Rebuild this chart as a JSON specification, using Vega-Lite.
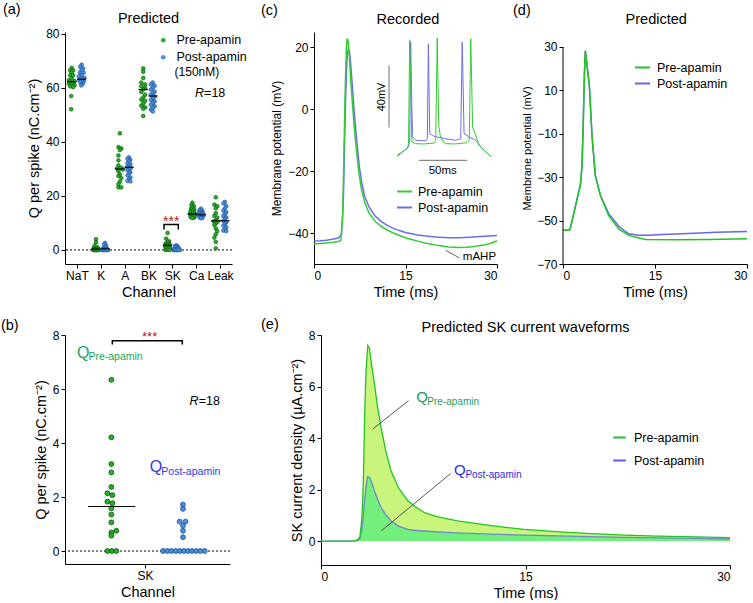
{
"$schema": "https://vega.github.io/schema/vega-lite/v6.json",
"padding": {"left": 0, "top": 1, "right": 0, "bottom": 0},
"background": "white",
"config": {
 "font": "Liberation Sans",
 "view": {"stroke": null},
 "axis": {"grid": false, "domainColor": "#000", "tickColor": "#000", "labelColor": "#000", "titleColor": "#000", "labelFontSize": 12, "titleFontSize": 14.5, "titleFontWeight": "normal", "tickSize": 4, "labelPadding": 2, "titlePadding": 4, "labelOverlap": false, "labelFont": "Liberation Sans", "titleFont": "Liberation Sans"},
 "title": {"fontSize": 14.5, "fontWeight": "normal", "font": "Liberation Sans", "color": "#000"},
 "legend": {"labelFontSize": 12.5, "labelFont": "Liberation Sans", "labelColor": "#000"}
},
"datasets": {
 "aPre": [
  {"x":0.78,"q":67.4},{"x":0.72,"q":66.5},{"x":0.84,"q":66.5},{"x":0.78,"q":65.7},{"x":0.72,"q":64.7},{"x":0.84,"q":64.7},{"x":0.78,"q":63.5},{"x":0.66,"q":62.8},{"x":0.9,"q":62.5},{"x":0.72,"q":62.3},{"x":0.84,"q":61.8},{"x":0.66,"q":61.6},{"x":0.78,"q":61.3},{"x":0.9,"q":61},{"x":0.72,"q":60.6},{"x":0.84,"q":60.3},{"x":0.76,"q":57},{"x":0.76,"q":52.1},
  {"x":1.8,"q":4},{"x":1.8,"q":2.8},{"x":1.74,"q":1.5},{"x":1.86,"q":1.0},{"x":1.7,"q":0.6},{"x":1.8,"q":0.4},{"x":1.9,"q":0.3},{"x":1.74,"q":0.2},{"x":1.86,"q":0.1},{"x":1.68,"q":0},{"x":1.74,"q":0},{"x":1.8,"q":0},{"x":1.86,"q":0},{"x":1.92,"q":0},{"x":1.71,"q":0},{"x":1.77,"q":0},{"x":1.83,"q":0},{"x":1.89,"q":0},
  {"x":2.8,"q":43.2},{"x":2.74,"q":38.1},{"x":2.86,"q":37.6},{"x":2.8,"q":37},{"x":2.74,"q":35},{"x":2.74,"q":33.2},{"x":2.74,"q":31.3},{"x":2.86,"q":30.4},{"x":2.68,"q":30.2},{"x":2.92,"q":29.8},{"x":2.74,"q":29.2},{"x":2.8,"q":28},{"x":2.74,"q":27.4},{"x":2.86,"q":26.6},{"x":2.8,"q":25.3},{"x":2.74,"q":24.4},{"x":2.74,"q":23.2},{"x":2.86,"q":23.2},
  {"x":3.78,"q":67.2},{"x":3.78,"q":66},{"x":3.78,"q":63.7},{"x":3.7,"q":62},{"x":3.86,"q":61.3},{"x":3.7,"q":60.6},{"x":3.86,"q":60},{"x":3.78,"q":59.5},{"x":3.7,"q":58.5},{"x":3.86,"q":57.5},{"x":3.78,"q":56.5},{"x":3.7,"q":55.7},{"x":3.86,"q":55.2},{"x":3.78,"q":54.3},{"x":3.7,"q":53.4},{"x":3.86,"q":52.8},{"x":3.78,"q":52.3},{"x":3.78,"q":49.6},
  {"x":4.8,"q":6.3},{"x":4.74,"q":4.2},{"x":4.86,"q":3.2},{"x":4.8,"q":2.9},{"x":4.72,"q":2.4},{"x":4.88,"q":2.1},{"x":4.8,"q":2.0},{"x":4.72,"q":1.8},{"x":4.88,"q":1.8},{"x":4.8,"q":1.6},{"x":4.7,"q":1.35},{"x":4.9,"q":1.05},{"x":4.8,"q":0.75},{"x":4.72,"q":0.7},{"x":4.88,"q":0.6},{"x":4.72,"q":0},{"x":4.8,"q":0},{"x":4.88,"q":0},
  {"x":5.84,"q":17.5},{"x":5.8,"q":16.6},{"x":5.9,"q":16.2},{"x":5.84,"q":15.7},{"x":5.78,"q":15.2},{"x":5.92,"q":14.9},{"x":5.84,"q":14.6},{"x":5.76,"q":14.2},{"x":5.92,"q":14},{"x":5.84,"q":13.6},{"x":5.74,"q":13.3},{"x":5.96,"q":13.1},{"x":5.8,"q":12.9},{"x":5.9,"q":12.7},{"x":5.84,"q":12.4},{"x":5.76,"q":12.2},{"x":5.92,"q":12},{"x":5.84,"q":11.8},
  {"x":6.82,"q":19.5},{"x":6.76,"q":16.8},{"x":6.88,"q":16.2},{"x":6.82,"q":15.4},{"x":6.82,"q":13.6},{"x":6.76,"q":12.6},{"x":6.88,"q":12},{"x":6.82,"q":11},{"x":6.74,"q":10.6},{"x":6.9,"q":10.5},{"x":6.82,"q":9.8},{"x":6.76,"q":9.3},{"x":6.82,"q":8},{"x":6.88,"q":7},{"x":6.82,"q":5.8},{"x":6.76,"q":4.6},{"x":6.82,"q":3.0},{"x":6.82,"q":0.6}
 ],
 "aPost": [
  {"x":1.2,"q":68.6},{"x":1.14,"q":67.8},{"x":1.26,"q":67.2},{"x":1.2,"q":66.5},{"x":1.12,"q":65.7},{"x":1.28,"q":65.7},{"x":1.2,"q":64.7},{"x":1.08,"q":64.3},{"x":1.32,"q":63.7},{"x":1.16,"q":63.5},{"x":1.24,"q":63.2},{"x":1.1,"q":62.8},{"x":1.3,"q":62.8},{"x":1.2,"q":62.5},{"x":1.14,"q":62.2},{"x":1.26,"q":61.8},{"x":1.2,"q":61.3},{"x":1.18,"q":60.9},
  {"x":2.18,"q":2.6},{"x":2.14,"q":2.1},{"x":2.22,"q":1.6},{"x":2.18,"q":1.1},{"x":2.1,"q":0.7},{"x":2.26,"q":0.5},{"x":2.18,"q":0.3},{"x":2.04,"q":0.2},{"x":2.3,"q":0.1},{"x":2.06,"q":0},{"x":2.12,"q":0},{"x":2.18,"q":0},{"x":2.24,"q":0},{"x":2.3,"q":0},{"x":2.09,"q":0},{"x":2.15,"q":0},{"x":2.21,"q":0},{"x":2.27,"q":0},
  {"x":3.18,"q":34.3},{"x":3.12,"q":33.8},{"x":3.24,"q":33.4},{"x":3.18,"q":32.8},{"x":3.12,"q":32.2},{"x":3.24,"q":31.8},{"x":3.18,"q":31.2},{"x":3.1,"q":30.7},{"x":3.26,"q":30.4},{"x":3.18,"q":30.1},{"x":3.12,"q":29.5},{"x":3.24,"q":28.8},{"x":3.18,"q":28.2},{"x":3.12,"q":27.6},{"x":3.24,"q":26.8},{"x":3.18,"q":26.2},{"x":3.12,"q":25.6},{"x":3.24,"q":25.4},
  {"x":4.18,"q":62},{"x":4.1,"q":61.3},{"x":4.26,"q":60.8},{"x":4.18,"q":60},{"x":4.1,"q":59.4},{"x":4.26,"q":58.6},{"x":4.18,"q":58},{"x":4.1,"q":57.5},{"x":4.26,"q":56.8},{"x":4.18,"q":56.2},{"x":4.1,"q":55.6},{"x":4.26,"q":55},{"x":4.18,"q":54.4},{"x":4.1,"q":53.8},{"x":4.26,"q":53.2},{"x":4.18,"q":52.6},{"x":4.1,"q":52},{"x":4.18,"q":51.3},
  {"x":5.18,"q":1.7},{"x":5.12,"q":1.55},{"x":5.24,"q":1.1},{"x":5.16,"q":1.1},{"x":5.1,"q":0.95},{"x":5.26,"q":0.75},{"x":5.18,"q":0.5},{"x":5.04,"q":0},{"x":5.08,"q":0},{"x":5.12,"q":0},{"x":5.16,"q":0},{"x":5.2,"q":0},{"x":5.24,"q":0},{"x":5.28,"q":0},{"x":5.32,"q":0},{"x":5.1,"q":0},{"x":5.18,"q":0},{"x":5.26,"q":0},
  {"x":6.2,"q":15.3},{"x":6.14,"q":14.8},{"x":6.26,"q":14.5},{"x":6.2,"q":14.2},{"x":6.12,"q":13.9},{"x":6.28,"q":13.7},{"x":6.2,"q":13.5},{"x":6.14,"q":13.3},{"x":6.26,"q":13.1},{"x":6.2,"q":12.9},{"x":6.12,"q":12.7},{"x":6.28,"q":12.5},{"x":6.2,"q":12.3},{"x":6.14,"q":12.1},{"x":6.26,"q":11.9},{"x":6.2,"q":11.7},{"x":6.32,"q":13},{"x":6.08,"q":12.8},
  {"x":7.2,"q":17.8},{"x":7.14,"q":17.2},{"x":7.26,"q":16.2},{"x":7.2,"q":15.4},{"x":7.14,"q":14.6},{"x":7.26,"q":14},{"x":7.2,"q":13.2},{"x":7.14,"q":12.6},{"x":7.26,"q":12},{"x":7.2,"q":11.4},{"x":7.14,"q":10.8},{"x":7.26,"q":10.2},{"x":7.2,"q":9.6},{"x":7.14,"q":9},{"x":7.26,"q":8.4},{"x":7.2,"q":7.8},{"x":7.14,"q":7.2},{"x":7.26,"q":7}
 ],
 "aMed": [
  {"x1":0.6,"x2":0.98,"q":62.3},{"x1":1.0,"x2":1.38,"q":63.2},{"x1":1.62,"x2":1.98,"q":0.3},{"x1":2.02,"x2":2.36,"q":0.4},{"x1":2.6,"x2":3.0,"q":30},{"x1":3.0,"x2":3.38,"q":30.6},{"x1":3.58,"x2":3.98,"q":59.4},{"x1":4.0,"x2":4.38,"q":57},{"x1":4.6,"x2":5.0,"q":1.7},{"x1":5.64,"x2":6.04,"q":13.3},{"x1":6.02,"x2":6.4,"q":13.0},{"x1":6.62,"x2":7.02,"q":10.8},{"x1":7.0,"x2":7.4,"q":10.8}
 ],
 "aBr": [{"x":4.65,"q":7.6,"o":1},{"x":4.65,"q":9.4,"o":2},{"x":5.25,"q":9.4,"o":3},{"x":5.25,"q":7.6,"o":4}],
 "bPre": [
  {"x":2.81,"q":6.34},{"x":2.81,"q":4.21},{"x":2.81,"q":3.22},{"x":2.81,"q":2.91},{"x":2.81,"q":2.37},{"x":2.57,"q":2.14},{"x":2.87,"q":2.07},{"x":2.57,"q":1.83},{"x":2.87,"q":1.77},{"x":2.81,"q":1.58},{"x":2.81,"q":1.35},{"x":2.81,"q":1.06},{"x":3.11,"q":0.75},{"x":2.81,"q":0.69},{"x":2.81,"q":0.57},{"x":2.57,"q":0},{"x":2.84,"q":0},{"x":3.11,"q":0}
 ],
 "bPost": [
  {"x":7.15,"q":1.72},{"x":7.15,"q":1.56},{"x":6.95,"q":1.09},{"x":7.3,"q":1.09},{"x":7.15,"q":0.94},{"x":7.15,"q":0.75},{"x":7.15,"q":0.51},
  {"x":5.94,"q":0},{"x":6.19,"q":0},{"x":6.44,"q":0},{"x":6.7,"q":0},{"x":6.95,"q":0},{"x":7.2,"q":0},{"x":7.45,"q":0},{"x":7.7,"q":0},{"x":7.96,"q":0},{"x":8.21,"q":0},{"x":8.47,"q":0}
 ],
 "bBr": [{"x":2.87,"q":7.65,"o":1},{"x":2.87,"q":7.79,"o":2},{"x":7.11,"q":7.79,"o":3},{"x":7.11,"q":7.65,"o":4}],
 "cPre": [
  {"t":0,"v":-43.5},{"t":1,"v":-43.4},{"t":2,"v":-43.2},{"t":3,"v":-43},{"t":4,"v":-42.7},{"t":4.4,"v":-42.3},{"t":4.7,"v":-35},{"t":4.9,"v":-15},{"t":5.1,"v":5},{"t":5.3,"v":20},{"t":5.45,"v":22.9},{"t":5.6,"v":22},{"t":5.8,"v":17},{"t":6.0,"v":10},{"t":6.3,"v":2},{"t":6.6,"v":-6},{"t":7.0,"v":-14},{"t":7.4,"v":-21},{"t":7.8,"v":-26},{"t":8.3,"v":-30},{"t":9.0,"v":-33.5},{"t":10,"v":-36.2},{"t":11,"v":-37.8},{"t":12,"v":-39},{"t":13,"v":-40},{"t":14,"v":-40.8},{"t":15,"v":-41.5},{"t":16,"v":-42.1},{"t":17,"v":-42.6},{"t":18,"v":-43.1},{"t":19,"v":-43.5},{"t":20,"v":-43.9},{"t":21,"v":-44.2},{"t":22,"v":-44.5},{"t":23,"v":-44.6},{"t":24,"v":-44.7},{"t":25,"v":-44.6},{"t":26,"v":-44.4},{"t":27,"v":-44.1},{"t":28,"v":-43.8},{"t":29,"v":-43.3},{"t":30,"v":-42.5}
 ],
 "cPost": [
  {"t":0,"v":-42.6},{"t":1,"v":-42.5},{"t":2,"v":-42.3},{"t":3,"v":-42},{"t":4,"v":-41.6},{"t":4.5,"v":-40.5},{"t":4.8,"v":-30},{"t":5.0,"v":-12},{"t":5.2,"v":5},{"t":5.4,"v":16},{"t":5.6,"v":19.4},{"t":5.8,"v":19},{"t":6.0,"v":15},{"t":6.3,"v":7},{"t":6.6,"v":-1},{"t":7.0,"v":-10},{"t":7.4,"v":-18},{"t":7.8,"v":-23.5},{"t":8.3,"v":-28},{"t":9.0,"v":-31.5},{"t":10,"v":-34.5},{"t":11,"v":-36.2},{"t":12,"v":-37.5},{"t":13,"v":-38.5},{"t":14,"v":-39.2},{"t":15,"v":-39.8},{"t":16,"v":-40.2},{"t":17,"v":-40.6},{"t":18,"v":-40.9},{"t":19,"v":-41.1},{"t":20,"v":-41.3},{"t":22,"v":-41.5},{"t":24,"v":-41.5},{"t":26,"v":-41.3},{"t":28,"v":-41},{"t":30,"v":-40.8}
 ],
 "ciPre": [
  {"t":13.66,"v":-14.8},{"t":15.3,"v":-12.7},{"t":15.5,"v":-11.1},{"t":15.68,"v":22.5},{"t":15.85,"v":10},{"t":16.05,"v":-10.5},{"t":16.67,"v":-11.1},{"t":18,"v":-11.2},{"t":19.67,"v":-10.9},{"t":19.95,"v":-10},{"t":20.2,"v":23.1},{"t":20.45,"v":-5},{"t":20.7,"v":-8.5},{"t":21.0,"v":-10},{"t":21.6,"v":-11.1},{"t":23,"v":-11.2},{"t":25.1,"v":-10.8},{"t":25.45,"v":-10},{"t":25.7,"v":22.8},{"t":26.0,"v":-5.7},{"t":26.5,"v":-8.4},{"t":27.05,"v":-11.6},{"t":28,"v":-13.5},{"t":28.97,"v":-15.2}
 ],
 "ciPost": [
  {"t":13.66,"v":-15.2},{"t":15.46,"v":-12.2},{"t":15.7,"v":-10},{"t":15.85,"v":21.7},{"t":16.0,"v":5},{"t":16.15,"v":-8.9},{"t":16.67,"v":-10},{"t":18.3,"v":-10.2},{"t":18.58,"v":-9.5},{"t":18.75,"v":21.2},{"t":18.97,"v":-7.8},{"t":19.67,"v":-8.7},{"t":21.5,"v":-9.5},{"t":23.2,"v":-10},{"t":24.05,"v":-9.5},{"t":24.3,"v":21.7},{"t":24.6,"v":-7.8},{"t":25.4,"v":-8.9},{"t":26.5,"v":-10},{"t":27.6,"v":-12.7},{"t":28.97,"v":-15.2}
 ],
 "dPre": [
  {"t":0,"v":-54.5},{"t":1.0,"v":-54.5},{"t":1.2,"v":-53.5},{"t":2.83,"v":-33.6},{"t":3.1,"v":-25},{"t":3.3,"v":-5},{"t":3.5,"v":18},{"t":3.64,"v":28.3},{"t":3.9,"v":22},{"t":4.3,"v":12},{"t":4.73,"v":-11},{"t":5.27,"v":-29.3},{"t":6.1,"v":-38.5},{"t":7.45,"v":-47.7},{"t":9.1,"v":-53.8},{"t":10.7,"v":-56.8},{"t":13.4,"v":-58.7},{"t":18.8,"v":-58.8},{"t":24,"v":-58.7},{"t":30,"v":-58.4}
 ],
 "dPost": [
  {"t":0,"v":-54.5},{"t":1.0,"v":-54.5},{"t":1.2,"v":-53.5},{"t":2.83,"v":-33.6},{"t":3.1,"v":-25},{"t":3.3,"v":-5},{"t":3.5,"v":18},{"t":3.64,"v":28.3},{"t":3.9,"v":22},{"t":4.3,"v":12},{"t":4.73,"v":-11},{"t":5.27,"v":-29.3},{"t":6.1,"v":-38.3},{"t":7.45,"v":-46.8},{"t":9.1,"v":-52.6},{"t":10.7,"v":-56.1},{"t":12.3,"v":-56.8},{"t":14,"v":-56.7},{"t":16.1,"v":-56.4},{"t":21.5,"v":-55.8},{"t":25,"v":-55.4},{"t":30,"v":-55.0}
 ],
 "e": [
  {"t":0,"pre":0,"post":0},{"t":2.2,"pre":0,"post":0},{"t":2.6,"pre":0.02,"post":0.01},{"t":2.85,"pre":0.15,"post":0.08},{"t":3.0,"pre":0.9,"post":0.45},{"t":3.1,"pre":2.2,"post":0.95},{"t":3.2,"pre":4.8,"post":1.6},{"t":3.3,"pre":6.6,"post":2.1},{"t":3.43,"pre":7.6,"post":2.5},{"t":3.55,"pre":7.5,"post":2.48},{"t":3.7,"pre":6.9,"post":2.3},{"t":3.92,"pre":6.1,"post":1.95},{"t":4.15,"pre":5.2,"post":1.62},{"t":4.41,"pre":4.4,"post":1.3},{"t":4.75,"pre":3.5,"post":1.02},{"t":5.14,"pre":2.72,"post":0.78},{"t":5.7,"pre":2.05,"post":0.58},{"t":6.37,"pre":1.56,"post":0.45},{"t":7.0,"pre":1.3,"post":0.41},{"t":7.6,"pre":1.1,"post":0.39},{"t":8.5,"pre":0.95,"post":0.36},{"t":10,"pre":0.78,"post":0.32},{"t":12.5,"pre":0.6,"post":0.27},{"t":14.9,"pre":0.45,"post":0.23},{"t":17.5,"pre":0.36,"post":0.2},{"t":19.8,"pre":0.29,"post":0.17},{"t":22.3,"pre":0.23,"post":0.14},{"t":24.7,"pre":0.19,"post":0.12},{"t":27.5,"pre":0.16,"post":0.1},{"t":30,"pre":0.13,"post":0.08}
 ]
},
"resolve": {"scale": {"color": "independent"}, "legend": {"color": "independent"}},
"vconcat": [
 {"resolve": {"scale": {"color": "independent"}, "legend": {"color": "independent"}},
  "hconcat": [
  {
   "width": 167, "height": 232,
   "layer": [
    {"data": {"values": [{}]}, "mark": {"type": "rule", "strokeDash": [2, 2], "color": "#000", "strokeWidth": 1}, "encoding": {"y": {"datum": 0, "type": "quantitative"}}},
    {"data": {"name": "aPre"}, "mark": {"type": "point", "filled": true, "size": 14, "stroke": "#0d4a0d", "strokeWidth": 0.6, "opacity": 1},
     "encoding": {
      "x": {"field": "x", "type": "quantitative", "scale": {"domain": [0.5, 7.5], "nice": false, "zero": false}, "axis": {"values": [1,2,3,4,5,6,7], "tickCount": 20, "labelExpr": "['NaT','K','A','BK','SK','Ca','Leak'][datum.value-1]", "labelOverlap": false, "labelFlush": false, "title": "Channel"}},
      "y": {"field": "q", "type": "quantitative", "scale": {"domain": [-5.2, 80.7], "nice": false, "zero": false}, "axis": {"values": [0,20,40,60,80], "title": "Q per spike  (nC.cm⁻²)"}},
      "color": {"datum": "Pre-apamin", "scale": {"domain": ["Pre-apamin", "Post-apamin"], "range": ["#22b522", "#4a90e2"]}, "legend": {"orient": "none", "legendX": 92, "legendY": 2, "title": null, "symbolType": "circle", "symbolSize": 22, "symbolStrokeWidth": 0, "labelOffset": 7, "rowPadding": 4}}
     }},
    {"data": {"name": "aPost"}, "mark": {"type": "point", "filled": true, "size": 14, "stroke": "#1c4f8c", "strokeWidth": 0.6, "opacity": 1},
     "encoding": {"x": {"field": "x", "type": "quantitative"}, "y": {"field": "q", "type": "quantitative"}, "color": {"datum": "Post-apamin"}}},
    {"data": {"name": "aMed"}, "mark": {"type": "rule", "color": "#000", "strokeWidth": 1.2},
     "encoding": {"x": {"field": "x1", "type": "quantitative"}, "x2": {"field": "x2"}, "y": {"field": "q", "type": "quantitative"}}},
    {"data": {"name": "aBr"}, "mark": {"type": "line", "color": "#000", "strokeWidth": 1.5},
     "encoding": {"x": {"field": "x", "type": "quantitative"}, "y": {"field": "q", "type": "quantitative"}, "order": {"field": "o", "type": "quantitative"}}},
    {"data": {"values": [{}]}, "mark": {"type": "text", "text": "***", "color": "#b22222", "fontSize": 14, "align": "center", "baseline": "alphabetic"}, "encoding": {"x": {"datum": 4.95}, "y": {"datum": 8.9}}},
    {"data": {"values": [{}]}, "mark": {"type": "text", "text": "(150nM)", "fontSize": 12, "align": "center", "baseline": "middle"}, "encoding": {"x": {"datum": 6.03}, "y": {"datum": 65.9}}},
    {"data": {"values": [{}]}, "mark": {"type": "text", "text": "R", "fontSize": 12.5, "fontStyle": "italic", "align": "right", "baseline": "alphabetic"}, "encoding": {"x": {"datum": 6.33}, "y": {"datum": 56.8}}},
    {"data": {"values": [{}]}, "mark": {"type": "text", "text": "=18", "fontSize": 12.5, "align": "left", "baseline": "alphabetic"}, "encoding": {"x": {"datum": 6.33}, "y": {"datum": 56.8}}},
    {"data": {"values": [{}]}, "mark": {"type": "text", "text": "Predicted", "fontSize": 14.5, "align": "center", "baseline": "middle"}, "encoding": {"x": {"datum": 4}, "y": {"datum": 85.6}}},
    {"data": {"values": [{}]}, "mark": {"type": "text", "text": "(a)", "fontSize": 14.5, "align": "left", "baseline": "middle"}, "encoding": {"x": {"datum": -2.1}, "y": {"datum": 88.9}}}
   ]
  },
  {"resolve": {"scale": {"color": "independent"}, "legend": {"color": "independent"}},
   "hconcat": [
   {
    "width": 183, "height": 232,
    "layer": [
     {"data": {"name": "cPost"}, "mark": {"type": "line", "strokeWidth": 1.5},
      "encoding": {
       "x": {"field": "t", "type": "quantitative", "scale": {"domain": [0, 30], "nice": false, "zero": false}, "axis": {"values": [0, 15, 30], "title": "Time (ms)"}},
       "y": {"field": "v", "type": "quantitative", "scale": {"domain": [-50, 25], "nice": false, "zero": false}, "axis": {"values": [-40, -20, 0, 20], "title": "Membrane potential (mV)", "titleFontSize": 12}},
       "color": {"datum": "Post-apamin", "scale": {"domain": ["Pre-apamin", "Post-apamin"], "range": ["#33cc33", "#6b6bef"]}, "legend": {"orient": "none", "legendX": 82, "legendY": 151, "title": null, "symbolType": "stroke", "symbolSize": 225, "symbolStrokeWidth": 2, "labelOffset": 5, "rowPadding": 1}}
      }},
     {"data": {"name": "cPre"}, "mark": {"type": "line", "strokeWidth": 1.5}, "encoding": {"x": {"field": "t", "type": "quantitative"}, "y": {"field": "v", "type": "quantitative"}, "color": {"datum": "Pre-apamin"}}},
     {"data": {"name": "ciPost"}, "mark": {"type": "line", "strokeWidth": 1}, "encoding": {"x": {"field": "t", "type": "quantitative"}, "y": {"field": "v", "type": "quantitative"}, "color": {"datum": "Post-apamin"}}},
     {"data": {"name": "ciPre"}, "mark": {"type": "line", "strokeWidth": 1}, "encoding": {"x": {"field": "t", "type": "quantitative"}, "y": {"field": "v", "type": "quantitative"}, "color": {"datum": "Pre-apamin"}}},
     {"data": {"values": [{}]}, "mark": {"type": "rule", "color": "#888", "strokeWidth": 1.2}, "encoding": {"x": {"datum": 12.3}, "y": {"datum": 14.2}, "y2": {"datum": -5.9}}},
     {"data": {"values": [{}]}, "mark": {"type": "rule", "color": "#888", "strokeWidth": 1.2}, "encoding": {"x": {"datum": 17.2}, "x2": {"datum": 25.1}, "y": {"datum": -16.5}}},
     {"data": {"values": [{}]}, "mark": {"type": "text", "text": "40mV", "angle": 270, "fontSize": 11, "align": "center", "baseline": "middle"}, "encoding": {"x": {"datum": 11.2}, "y": {"datum": 4.0}}},
     {"data": {"values": [{}]}, "mark": {"type": "text", "text": "50ms", "fontSize": 11.5, "align": "center", "baseline": "middle"}, "encoding": {"x": {"datum": 21.1}, "y": {"datum": -19.9}}},
     {"data": {"values": [{}]}, "mark": {"type": "rule", "color": "#666", "strokeWidth": 1}, "encoding": {"x": {"datum": 21.6}, "x2": {"datum": 23.8}, "y": {"datum": -45.6}, "y2": {"datum": -48}}},
     {"data": {"values": [{}]}, "mark": {"type": "text", "text": "mAHP", "fontSize": 11.5, "align": "left", "baseline": "middle"}, "encoding": {"x": {"datum": 24.4}, "y": {"datum": -47.8}}},
     {"data": {"values": [{}]}, "mark": {"type": "text", "text": "Recorded", "fontSize": 14.5, "align": "center", "baseline": "middle"}, "encoding": {"x": {"datum": 15.4}, "y": {"datum": 28.9}}},
     {"data": {"values": [{}]}, "mark": {"type": "text", "text": "(c)", "fontSize": 14.5, "align": "left", "baseline": "middle"}, "encoding": {"x": {"datum": -8.69}, "y": {"datum": 31.8}}}
    ]
   },
   {
    "width": 184, "height": 232,
    "layer": [
     {"data": {"name": "dPost"}, "mark": {"type": "line", "strokeWidth": 1.5},
      "encoding": {
       "x": {"field": "t", "type": "quantitative", "scale": {"domain": [0, 30], "nice": false, "zero": false}, "axis": {"values": [0, 15, 30], "title": "Time (ms)"}},
       "y": {"field": "v", "type": "quantitative", "scale": {"domain": [-70, 36.9], "nice": false, "zero": false}, "axis": {"values": [-70, -50, -30, -10, 10, 30], "tickCount": 20, "domain": false, "title": "Membrane potential (mV)", "titleFontSize": 11}},
       "color": {"datum": "Post-apamin", "scale": {"domain": ["Pre-apamin", "Post-apamin"], "range": ["#22c422", "#6666ee"]}, "legend": {"orient": "none", "legendX": 71, "legendY": 27, "title": null, "symbolType": "stroke", "symbolSize": 225, "symbolStrokeWidth": 2, "labelOffset": 6, "rowPadding": 1}}
      }},
     {"data": {"name": "dPre"}, "mark": {"type": "line", "strokeWidth": 1.5}, "encoding": {"x": {"field": "t", "type": "quantitative"}, "y": {"field": "v", "type": "quantitative"}, "color": {"datum": "Pre-apamin"}}},
     {"data": {"values": [{}]}, "mark": {"type": "rule", "color": "#000", "strokeWidth": 1}, "encoding": {"x": {"datum": 0}, "y": {"datum": -70}, "y2": {"datum": 30}}},
     {"data": {"values": [{}]}, "mark": {"type": "text", "text": "Predicted", "fontSize": 14.5, "align": "center", "baseline": "middle"}, "encoding": {"x": {"datum": 15.2}, "y": {"datum": 42.4}}},
     {"data": {"values": [{}]}, "mark": {"type": "text", "text": "(d)", "fontSize": 14.5, "align": "left", "baseline": "middle"}, "encoding": {"x": {"datum": -8.15}, "y": {"datum": 46.5}}}
    ]
   }
  ], "spacing": 13}
 ], "spacing": 13},
 {"resolve": {"scale": {"color": "independent"}, "legend": {"color": "independent"}},
  "hconcat": [
  {
   "width": 165, "height": 229,
   "layer": [
    {"data": {"values": [{}]}, "mark": {"type": "rule", "strokeDash": [2, 2], "color": "#000", "strokeWidth": 1}, "encoding": {"y": {"datum": 0, "type": "quantitative"}}},
    {"data": {"name": "bPre"}, "mark": {"type": "point", "filled": true, "size": 24, "stroke": "#0d4a0d", "strokeWidth": 0.8, "opacity": 1, "color": "#22b522"},
     "encoding": {
      "x": {"field": "x", "type": "quantitative", "scale": {"domain": [0, 10], "nice": false, "zero": false}, "axis": {"values": [4.85], "labelExpr": "'SK'", "title": "Channel"}},
      "y": {"field": "q", "type": "quantitative", "scale": {"domain": [-0.48, 8], "nice": false, "zero": false}, "axis": {"values": [0, 2, 4, 6, 8], "title": "Q per spike  (nC.cm⁻²)"}}
     }},
    {"data": {"name": "bPost"}, "mark": {"type": "point", "filled": true, "size": 24, "stroke": "#1c4f8c", "strokeWidth": 0.8, "opacity": 1, "color": "#4a90e2"},
     "encoding": {"x": {"field": "x", "type": "quantitative"}, "y": {"field": "q", "type": "quantitative"}}},
    {"data": {"values": [{}]}, "mark": {"type": "rule", "color": "#000", "strokeWidth": 1.2}, "encoding": {"x": {"datum": 1.4}, "x2": {"datum": 4.26}, "y": {"datum": 1.65}}},
    {"data": {"name": "bBr"}, "mark": {"type": "line", "color": "#000", "strokeWidth": 1.5},
     "encoding": {"x": {"field": "x", "type": "quantitative"}, "y": {"field": "q", "type": "quantitative"}, "order": {"field": "o", "type": "quantitative"}}},
    {"data": {"values": [{}]}, "mark": {"type": "text", "text": "***", "color": "#b22222", "fontSize": 13, "align": "center", "baseline": "alphabetic"}, "encoding": {"x": {"datum": 5.13}, "y": {"datum": 7.78}}},
    {"data": {"values": [{}]}, "mark": {"type": "text", "text": "Q", "color": "#22a55a", "fontSize": 16, "align": "left", "baseline": "alphabetic"}, "encoding": {"x": {"datum": 0.73}, "y": {"datum": 7.15}}},
    {"data": {"values": [{}]}, "mark": {"type": "text", "text": "Pre-apamin", "color": "#22a55a", "fontSize": 10.5, "align": "left", "baseline": "alphabetic"}, "encoding": {"x": {"datum": 1.42}, "y": {"datum": 7.07}}},
    {"data": {"values": [{}]}, "mark": {"type": "text", "text": "Q", "color": "#2a3af0", "fontSize": 16, "align": "left", "baseline": "alphabetic"}, "encoding": {"x": {"datum": 5.13}, "y": {"datum": 2.91}}},
    {"data": {"values": [{}]}, "mark": {"type": "text", "text": "Post-apamin", "color": "#2a3af0", "fontSize": 10.5, "align": "left", "baseline": "alphabetic"}, "encoding": {"x": {"datum": 5.84}, "y": {"datum": 2.8}}},
    {"data": {"values": [{}]}, "mark": {"type": "text", "text": "R", "fontSize": 12.5, "fontStyle": "italic", "align": "right", "baseline": "alphabetic"}, "encoding": {"x": {"datum": 8.1}, "y": {"datum": 5.42}}},
    {"data": {"values": [{}]}, "mark": {"type": "text", "text": "=18", "fontSize": 12.5, "align": "left", "baseline": "alphabetic"}, "encoding": {"x": {"datum": 8.1}, "y": {"datum": 5.42}}},
    {"data": {"values": [{}]}, "mark": {"type": "text", "text": "(b)", "fontSize": 14.5, "align": "left", "baseline": "middle"}, "encoding": {"x": {"datum": -3.88}, "y": {"datum": 8.34}}}
   ]
  },
  {
   "width": 409, "height": 230,
   "layer": [
    {"data": {"name": "e"}, "mark": {"type": "area", "color": "#c9f57c"},
     "encoding": {
      "x": {"field": "t", "type": "quantitative", "scale": {"domain": [0, 30], "nice": false, "zero": false}, "axis": {"values": [0, 15, 30], "title": "Time (ms)"}},
      "y": {"field": "pre", "type": "quantitative", "scale": {"domain": [-0.93, 8], "nice": false, "zero": false}, "axis": {"values": [0, 2, 4, 6, 8], "title": "SK current density (µA.cm⁻²)"}}
     }},
    {"data": {"name": "e"}, "mark": {"type": "area", "color": "#72ef7d"}, "encoding": {"x": {"field": "t", "type": "quantitative"}, "y": {"field": "post", "type": "quantitative"}}},
    {"data": {"name": "e"}, "mark": {"type": "line", "strokeWidth": 1.3, "opacity": 0.7}, "encoding": {"x": {"field": "t", "type": "quantitative"}, "y": {"field": "post", "type": "quantitative"},
      "color": {"datum": "Post-apamin", "scale": {"domain": ["Pre-apamin", "Post-apamin"], "range": ["#22c422", "#5a5af0"]}, "legend": {"orient": "none", "legendX": 291, "legendY": 95, "title": null, "symbolType": "stroke", "symbolSize": 160, "symbolStrokeWidth": 2, "symbolOpacity": 1, "labelOffset": 7, "rowPadding": 9}}}},
    {"data": {"name": "e"}, "mark": {"type": "line", "strokeWidth": 1.3}, "encoding": {"x": {"field": "t", "type": "quantitative"}, "y": {"field": "pre", "type": "quantitative"}, "color": {"datum": "Pre-apamin"}}},
    {"data": {"values": [{}]}, "mark": {"type": "rule", "color": "#555", "strokeWidth": 1}, "encoding": {"x": {"datum": 3.8}, "x2": {"datum": 6.42}, "y": {"datum": 4.35}, "y2": {"datum": 5.45}}},
    {"data": {"values": [{}]}, "mark": {"type": "rule", "color": "#555", "strokeWidth": 1}, "encoding": {"x": {"datum": 4.41}, "x2": {"datum": 9.5}, "y": {"datum": 0.39}, "y2": {"datum": 2.62}}},
    {"data": {"values": [{}]}, "mark": {"type": "text", "text": "Q", "color": "#1e9e57", "fontSize": 15, "align": "left", "baseline": "alphabetic"}, "encoding": {"x": {"datum": 6.99}, "y": {"datum": 5.4}}},
    {"data": {"values": [{}]}, "mark": {"type": "text", "text": "Pre-apamin", "color": "#1e9e57", "fontSize": 10, "align": "left", "baseline": "alphabetic"}, "encoding": {"x": {"datum": 7.8}, "y": {"datum": 5.29}}},
    {"data": {"values": [{}]}, "mark": {"type": "text", "text": "Q", "color": "#2b2bef", "fontSize": 15, "align": "left", "baseline": "alphabetic"}, "encoding": {"x": {"datum": 9.76}, "y": {"datum": 2.57}}},
    {"data": {"values": [{}]}, "mark": {"type": "text", "text": "Post-apamin", "color": "#2b2bef", "fontSize": 10, "align": "left", "baseline": "alphabetic"}, "encoding": {"x": {"datum": 10.59}, "y": {"datum": 2.46}}},
    {"data": {"values": [{}]}, "mark": {"type": "text", "text": "Predicted SK current waveforms", "fontSize": 14.5, "align": "center", "baseline": "middle"}, "encoding": {"x": {"datum": 15}, "y": {"datum": 8.27}}},
    {"data": {"values": [{}]}, "mark": {"type": "text", "text": "(e)", "fontSize": 14.5, "align": "left", "baseline": "middle"}, "encoding": {"x": {"datum": -4.4}, "y": {"datum": 8.4}}}
   ]
  }
 ], "spacing": 30}
],
"spacing": 17
}
